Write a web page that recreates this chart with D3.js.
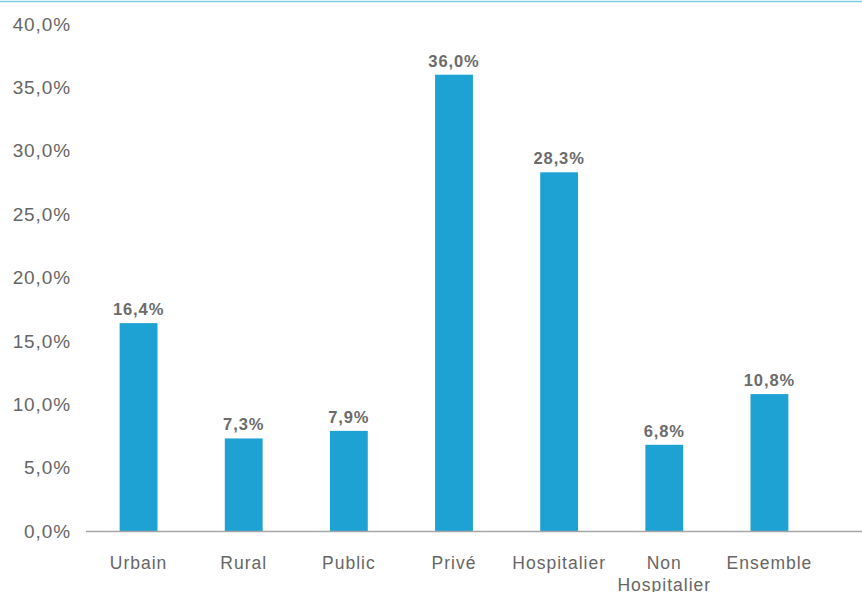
<!DOCTYPE html>
<html>
<head>
<meta charset="utf-8">
<script src="https://cdn.jsdelivr.net/npm/d3@7"></script>
<style>
  body { margin: 0; background: #fff; }
  text { font-family: "Liberation Sans", Arial, sans-serif; }
</style>
</head>
<body>
<svg id="chart" width="862" height="592"></svg>
<script>
var categories = ["Urbain", "Rural", "Public", "Privé", "Hospitalier", "Non Hospitalier", "Ensemble"];
var values = [16.4, 7.3, 7.9, 36.0, 28.3, 6.8, 10.8];
var yTicks = [0, 5, 10, 15, 20, 25, 30, 35, 40];

var svg = d3.select("#chart");
var fmt = (v) => d3.format(".1f")(v).replace(".", ",") + "%";

var x = d3.scaleBand().domain(categories).range([86, 822]).paddingInner(0.64).paddingOuter(0.32);
var y = d3.scaleLinear().domain([0, 40]).range([531, 24]);

// top border line
svg.append("line")
  .attr("x1", 0).attr("x2", 862).attr("y1", 1.5).attr("y2", 1.5)
  .style("stroke", "#7fcfe2").attr("stroke-width", 1.5);

// y tick labels
svg.append("g").selectAll("text").data(yTicks).enter().append("text")
  .attr("x", 71).attr("y", (d) => y(d)).attr("dy", "0.35em")
  .attr("text-anchor", "end")
  .style("font-size", "19px").style("letter-spacing", "0.9px").style("fill", "#666")
  .text((d) => fmt(d));

// bars
svg.append("g").selectAll("rect").data(values).enter().append("rect")
  .attr("x", (d, i) => x(categories[i]))
  .attr("width", x.bandwidth())
  .attr("y", (d) => y(d))
  .attr("height", (d) => y(0) - y(d))
  .style("fill", "#1ea1d3");

// value labels
svg.append("g").selectAll("text").data(values).enter().append("text")
  .attr("x", (d, i) => x(categories[i]) + x.bandwidth() / 2)
  .attr("y", (d) => y(d) - 8)
  .attr("text-anchor", "middle")
  .style("font-size", "16.5px").style("letter-spacing", "0.9px")
  .style("font-weight", "bold").style("fill", "#6b6b6b")
  .text((d) => fmt(d));

// baseline
svg.append("line")
  .attr("x1", 86).attr("x2", 862).attr("y1", y(0) + 0.5).attr("y2", y(0) + 0.5)
  .style("stroke", "#a6a6a6").attr("stroke-width", 1.5);

// category labels
var cat = svg.append("g").selectAll("text").data(categories).enter().append("text")
  .attr("x", (d) => x(d) + x.bandwidth() / 2)
  .attr("y", 569)
  .attr("text-anchor", "middle")
  .style("font-size", "17.5px").style("letter-spacing", "1px").style("fill", "#666");
cat.each(function (d) {
  var words = d === "Non Hospitalier" ? ["Non", "Hospitalier"] : [d];
  var t = d3.select(this);
  words.forEach((w, i) => {
    t.append("tspan").attr("x", x(d) + x.bandwidth() / 2).attr("dy", i ? 22 : 0).text(w);
  });
});
</script>
</body>
</html>
